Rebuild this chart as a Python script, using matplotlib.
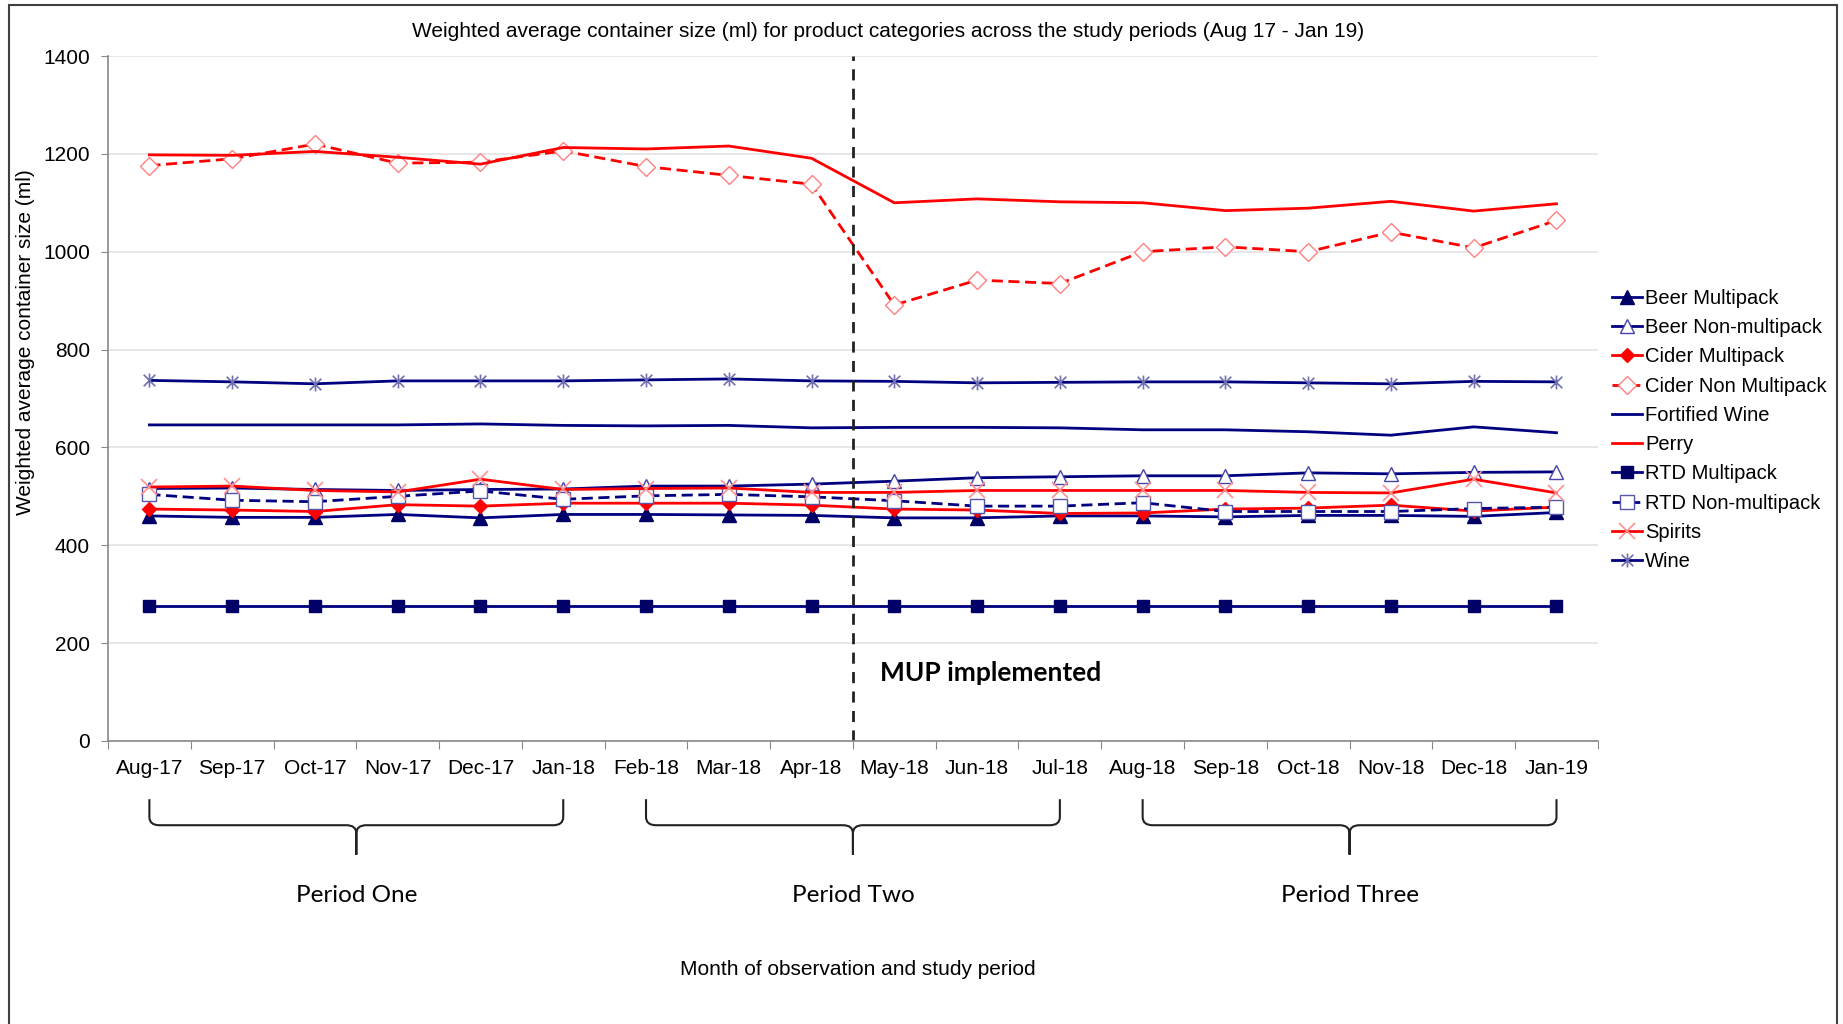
import matplotlib
matplotlib.use('agg')
import matplotlib.pyplot as plt
from matplotlib.path import Path
from matplotlib.patches import PathPatch, Rectangle
from matplotlib.transforms import blended_transform_factory

# Data
months = ['Aug-17', 'Sep-17', 'Oct-17', 'Nov-17', 'Dec-17', 'Jan-18', 'Feb-18',
          'Mar-18', 'Apr-18', 'May-18', 'Jun-18', 'Jul-18', 'Aug-18', 'Sep-18',
          'Oct-18', 'Nov-18', 'Dec-18', 'Jan-19']
beer_multi = [460, 457, 457, 463, 456, 463, 463, 462, 461, 456, 456, 460, 460, 458, 461, 461, 459, 467]
beer_non = [516, 517, 514, 512, 514, 515, 521, 521, 525, 531, 538, 540, 542, 542, 548, 546, 549, 550]
cider_multi = [474, 472, 469, 483, 480, 486, 486, 486, 482, 474, 472, 465, 466, 474, 476, 482, 470, 478]
cider_non = [1176, 1190, 1220, 1181, 1183, 1206, 1174, 1156, 1138, 891, 942, 935, 1000, 1010, 1000, 1040, 1008, 1064]
fortified = [646, 646, 646, 646, 648, 645, 644, 645, 640, 641, 641, 640, 636, 636, 632, 625, 642, 630]
perry = [1198, 1197, 1205, 1193, 1179, 1213, 1210, 1216, 1191, 1100, 1108, 1102, 1100, 1084, 1089, 1103, 1083, 1098]
rtd_multi = [275, 275, 275, 275, 275, 275, 275, 275, 275, 275, 275, 275, 275, 275, 275, 275, 275, 275]
rtd_non = [504, 492, 489, 500, 511, 494, 501, 504, 499, 491, 480, 480, 487, 469, 469, 469, 475, 478]
spirits = [519, 521, 512, 509, 535, 514, 516, 517, 508, 508, 512, 512, 512, 512, 508, 507, 535, 507]
wine = [737, 734, 730, 736, 736, 736, 738, 740, 736, 735, 732, 733, 734, 734, 732, 730, 735, 734]

period_labels = ['Period One', 'Period Two', 'Period Three']
period_start = [0, 6, 12]
period_end = [5, 11, 17]
mup_index = 8.5

NAVY = '#000080'
RED = '#FF0000'

# asterisk marker like Excel's star
STAR = Path([(-1, -1), (1, 1), (-1, 1), (1, -1), (0, -1.2), (0, 1.2)],
            [Path.MOVETO, Path.LINETO, Path.MOVETO, Path.LINETO, Path.MOVETO, Path.LINETO])

plt.rcParams['font.family'] = ['Liberation Sans', 'DejaVu Sans']

fig = plt.figure(figsize=(18.43, 10.24), dpi=100)
ax = fig.add_axes([0.0586, 0.2764, 0.8084, 0.6689])
x = list(range(len(months)))

series = [
    ('Beer Multipack', beer_multi, dict(color=NAVY, marker='^', ms=10, mfc='#000066', mec='#000066')),
    ('Beer Non-multipack', beer_non, dict(color=NAVY, marker='^', ms=10, mfc='white', mec='#4444AA')),
    ('Cider Multipack', cider_multi, dict(color=RED, marker='D', ms=7, mfc=RED, mec=RED)),
    ('Cider Non Multipack', cider_non, dict(color=RED, ls=(0, (4, 2)), marker='D', ms=9, mfc='white', mec='#FF8080')),
    ('Fortified Wine', fortified, dict(color=NAVY)),
    ('Perry', perry, dict(color=RED)),
    ('RTD Multipack', rtd_multi, dict(color=NAVY, marker='s', ms=9, mfc='#000066', mec='#000066')),
    ('RTD Non-multipack', rtd_non, dict(color=NAVY, ls=(0, (4, 2)), marker='s', ms=10, mfc='white', mec='#5555AA')),
    ('Spirits', spirits, dict(color=RED, marker='x', ms=12, mec='#FF9090', mew=1.2)),
    ('Wine', wine, dict(color=NAVY, marker=STAR, ms=10, mfc='none', mec='#7070B0', mew=1.2)),
]
for name, vals, style in series:
    ax.plot(x, vals, lw=2, label=name, **style)

# MUP line
ax.axvline(mup_index, color='#222222', lw=2, ls=(0, (4, 3)))
ax.text(mup_index + 0.33, 139, 'MUP implemented', fontsize=19, fontweight='bold',
        family=['Lato', 'DejaVu Sans'], va='center', ha='left')

# Axes
ax.set_xlim(-0.5, len(months) - 0.5)
ax.set_ylim(0, 1400)
ax.set_yticks(range(0, 1401, 200))
ax.set_xticks([i + 0.5 for i in range(-1, len(months))])
ax.set_xticklabels([])
ax.set_xticks(x, minor=True)
ax.set_xticklabels(months, minor=True)
ax.tick_params(axis='x', which='major', length=6, color='#888888')
ax.tick_params(axis='x', which='minor', length=0, pad=13, labelsize=15)
ax.tick_params(axis='y', length=5, color='#888888', pad=8, labelsize=15)
ax.grid(axis='y', color='#E3E3E3', lw=1.2)
ax.set_axisbelow(True)
for s in ['top', 'right']:
    ax.spines[s].set_visible(False)
for s in ['left', 'bottom']:
    ax.spines[s].set_color('#888888')
    ax.spines[s].set_linewidth(1.2)

# Period braces
tr = blended_transform_factory(ax.transData, ax.transAxes)
top, mid, tip, dy, r = -0.085, -0.123, -0.166, 0.012, 0.12
for label, a, b in zip(period_labels, period_start, period_end):
    c = (a + b) / 2
    verts, codes = [], []
    for x0, sgn in [(a, 1), (b, -1)]:
        verts += [(x0, top), (x0, mid + dy), (x0, mid), (x0 + sgn * r, mid),
                  (c - sgn * r, mid), (c, mid), (c, mid - dy), (c, tip)]
        codes += [Path.MOVETO, Path.LINETO, Path.CURVE3, Path.CURVE3,
                  Path.LINETO, Path.CURVE3, Path.CURVE3, Path.LINETO]
    ax.add_patch(PathPatch(Path(verts, codes), transform=tr, fill=False,
                           lw=1.5, color='#222222', clip_on=False))
    ax.text(c, -0.225, label, transform=tr, ha='center', va='center',
            fontsize=17.5, family=['Lato', 'DejaVu Sans'])

# Legend
ax.legend(loc='upper left', bbox_to_anchor=(0.8747, 0.718), bbox_transform=fig.transFigure,
          frameon=False, fontsize=14.5, handlelength=1.5, handletextpad=0.15,
          labelspacing=0.51, borderpad=0, borderaxespad=0)

# Labels
fig.text(0.482, 0.969, 'Weighted average container size (ml) for product categories across the study periods (Aug 17 - Jan 19)',
         ha='center', va='center', fontsize=15)
fig.text(0.014, 0.666, 'Weighted average container size (ml)', rotation=90,
         ha='center', va='center', fontsize=15)
fig.text(0.4655, 0.0537, 'Month of observation and study period', ha='center', va='center', fontsize=15)

# Outer frame
fig.add_artist(Rectangle((0.005, -0.1), 0.992, 1.095, transform=fig.transFigure,
                         fill=False, edgecolor='#404040', lw=1.5))

# Save
plt.savefig('out.png', dpi=100)
